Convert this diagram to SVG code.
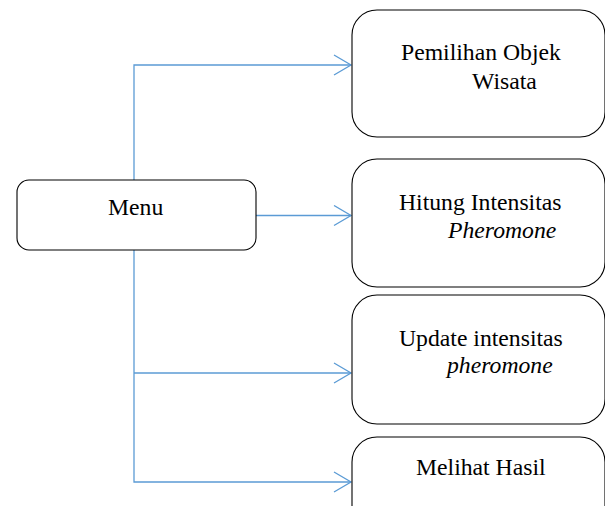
<svg xmlns="http://www.w3.org/2000/svg" width="605" height="506" viewBox="0 0 605 506">
<defs>
<marker id="arr" markerUnits="userSpaceOnUse" markerWidth="20" markerHeight="22" refX="18" refY="11" orient="auto">
<path d="M1,1 L18,11 L1,21" fill="none" stroke="#5B9BD5" stroke-width="1.3"/>
</marker>
<style>
.box{fill:#fff;stroke:#000;stroke-width:1.1}
.t{font-family:"Liberation Serif","Times New Roman",serif;font-size:23.7px;fill:#000}
.i{font-style:italic}
.c{fill:none;stroke:#5B9BD5;stroke-width:1.3}
</style>
</defs>
<rect width="605" height="506" fill="#fff"/>
<g id="connectors">
<path class="c" d="M134,180 V65 H351" marker-end="url(#arr)"/>
<path class="c" d="M256,215.5 H351" marker-end="url(#arr)"/>
<path class="c" d="M134,250 V482 H351" marker-end="url(#arr)"/>
<path class="c" d="M134,373 H351" marker-end="url(#arr)"/>
</g>
<g id="menu">
<rect class="box" x="17" y="180" width="239" height="70" rx="12"/>
<text class="t" x="108" y="215">Menu</text>
</g>
<g id="pemilihan">
<rect class="box" x="352" y="10" width="253" height="127" rx="25"/>
<text class="t" x="401" y="60">Pemilihan Objek</text>
<text class="t" x="472" y="89">Wisata</text>
</g>
<g id="hitung">
<rect class="box" x="352" y="159" width="253" height="128" rx="25"/>
<text class="t" x="399" y="210">Hitung Intensitas</text>
<text class="t i" x="448" y="238">Pheromone</text>
</g>
<g id="update">
<rect class="box" x="352" y="295" width="253" height="129" rx="25"/>
<text class="t" x="399" y="346">Update intensitas</text>
<text class="t i" x="447" y="373">pheromone</text>
</g>
<g id="melihat">
<rect class="box" x="352" y="437" width="253" height="100" rx="25"/>
<text class="t" x="416" y="475">Melihat Hasil</text>
</g>
</svg>
